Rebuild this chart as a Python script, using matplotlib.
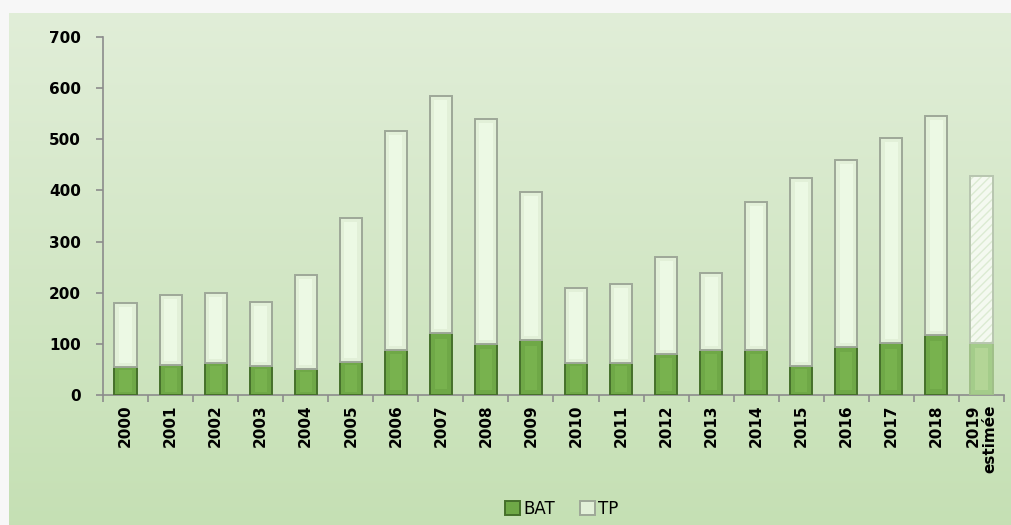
import numpy as np
import matplotlib.pyplot as plt

years = ["2000", "2001", "2002", "2003", "2004", "2005", "2006", "2007", "2008", "2009",
         "2010", "2011", "2012", "2013", "2014", "2015", "2016", "2017", "2018", "2019\nestimée"]
bat = [54, 59, 62, 57, 50, 65, 88, 122, 100, 107, 63, 63, 80, 88, 88, 57, 93, 101, 117, 102]
total = [180, 196, 199, 182, 235, 347, 517, 585, 540, 397, 210, 218, 270, 238, 377, 425, 460, 502, 546, 428]
tp = [t - b for t, b in zip(total, bat)]

fig = plt.figure(figsize=(10.12, 5.25), dpi=100, facecolor="#f7f7f7")

# green gradient panel behind the chart
bg = fig.add_axes([9 / 1012, 0, 1 - 9 / 1012, 1 - 13 / 525])
grad = np.linspace(0, 1, 256).reshape(-1, 1)
top = np.array([0.882, 0.933, 0.847])
bot = np.array([0.773, 0.878, 0.706])
img = top + (bot - top) * grad[:, :, None] * np.ones((1, 1, 3))
bg.imshow(img, aspect="auto", extent=[0, 1, 0, 1])
bg.set_axis_off()

ax = fig.add_axes([103 / 1012, 1 - 395 / 525, (1004 - 103) / 1012, (395 - 37) / 525])
ax.patch.set_alpha(0)

x = np.arange(len(years))
w = 0.49
n = len(years)

for i in range(n):
    last = i == n - 1
    ax.bar(x[i], bat[i], w, color="#a4cc8a" if last else "#6fa847",
           edgecolor="#9fbf88" if last else "#456f2b", linewidth=1.4,
           label="BAT" if i == 0 else None, zorder=3)
    # lighter core to hint at the bevelled look
    ax.bar(x[i], bat[i] * 0.8, w * 0.55, bottom=bat[i] * 0.1,
           color="#b3d596" if last else "#78b24e", linewidth=0, zorder=3.5)
    if last:
        ax.bar(x[i], tp[i], w, bottom=bat[i], color="#f4f9f0", edgecolor="#dcebd3",
               hatch="////", linewidth=0, zorder=3)
        ax.bar(x[i], tp[i], w, bottom=bat[i], fill=False, edgecolor="#b8c6b0",
               linewidth=1.4, zorder=4)
    else:
        ax.bar(x[i], tp[i], w, bottom=bat[i], color="#e2f0d8", edgecolor="#9ea898",
               linewidth=1.4, label="TP" if i == 0 else None, zorder=3)
        ax.bar(x[i], tp[i] - 16, w * 0.6, bottom=bat[i] + 8,
               color="#ecf9e4", linewidth=0, zorder=3.5)

ax.set_xlim(-0.5, n - 0.5)
ax.set_ylim(0, 700)
ax.set_yticks(range(0, 701, 100))
ax.set_xticks(x)
ax.set_xticklabels(years, rotation=90, fontweight="bold", fontsize=11,
                   multialignment="right")
ax.set_xticks(np.arange(-0.5, n, 1), minor=True)
ax.tick_params(axis="x", which="major", length=0, pad=7)
ax.tick_params(axis="x", which="minor", length=5, color="#8c8c8c", width=1.2)
ax.tick_params(axis="y", length=5, color="#8c8c8c", width=1.2, labelsize=11, pad=11)
for lab in ax.get_yticklabels():
    lab.set_fontweight("bold")
for s in ["top", "right"]:
    ax.spines[s].set_visible(False)
for s in ["left", "bottom"]:
    ax.spines[s].set_color("#8c8c8c")
    ax.spines[s].set_linewidth(1.2)

fig.legend(loc="lower center", bbox_to_anchor=(0.555, -0.015), ncol=2, frameon=False,
           fontsize=12, handlelength=0.9, handleheight=0.9, handletextpad=0.2,
           columnspacing=1.5)

fig.savefig("out.png", dpi=100, facecolor=fig.get_facecolor())
